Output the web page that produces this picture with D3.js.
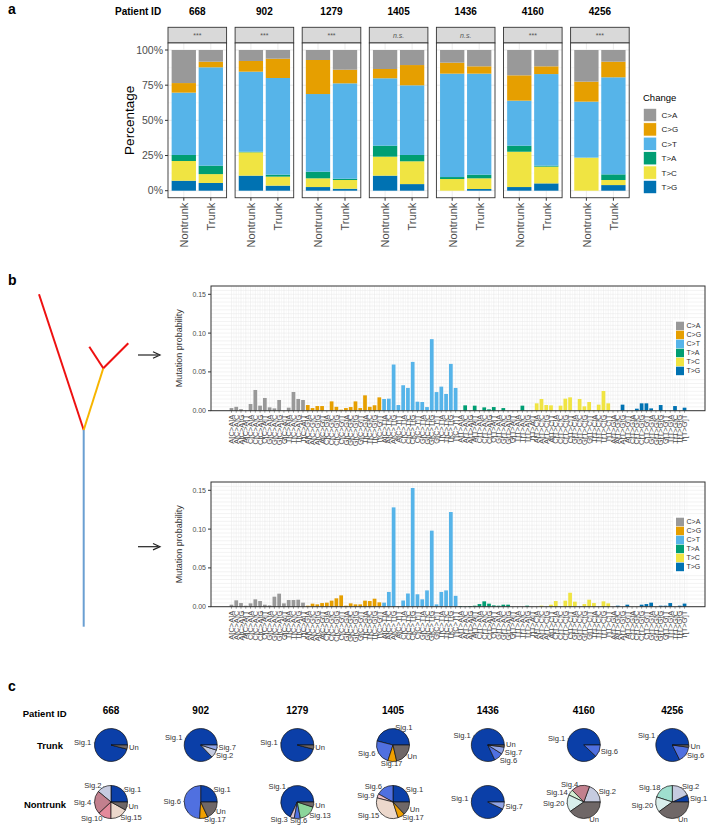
<!DOCTYPE html>
<html><head><meta charset="utf-8">
<script src="https://cdn.jsdelivr.net/npm/d3@7"></script>
<style>body{margin:0;background:#fff} svg{display:block;font-family:"Liberation Sans",Arial,sans-serif}</style>
</head><body><svg id="fig" width="708" height="827"></svg>
<script>
// ---------- DATA ----------
const changes = ["C>A","C>G","C>T","T>A","T>C","T>G"];
const changeColors = ["#999999","#E69F00","#56B4E9","#009E73","#F0E442","#0072B2"];
const patients = ["668","902","1279","1405","1436","4160","4256"];
const stripLabels = ["***","***","***","n.s.","n.s.","***","***"];
const branches = ["Nontrunk","Trunk"];
const pctTicks = [0,0.25,0.5,0.75,1];
// percentage of each change (C>A,C>G,C>T,T>A,T>C,T>G) per patient
const nontrunkPct = [
  [23.5,6.8,44.3,4.3,14.0,7.1],
  [7.8,7.6,56.9,0.4,16.6,10.7],
  [7.1,24.2,55.2,4.7,6.2,2.6],
  [13.5,6.6,47.9,7.8,13.5,10.7],
  [9.0,7.8,73.5,1.4,8.3,0],
  [18.0,18.0,32.0,4.3,25.1,2.6],
  [22.5,14.2,39.8,0,23.5,0]
];
const trunkPct = [
  [8.3,4.0,69.9,6.0,6.3,5.5],
  [6.2,13.7,68.7,1.4,6.4,3.6],
  [14.0,9.7,67.8,0.9,6.2,1.4],
  [10.7,14.4,49.5,4.5,16.2,4.7],
  [11.6,5.2,71.8,2.6,7.6,1.2],
  [11.6,5.5,65.1,0.7,11.9,5.2],
  [8.3,11.1,69.0,4.0,3.6,4.0]
];
// panel b: 96 trinucleotide contexts
const bases = ["A","C","G","T"];
const probTicks = [0,0.05,0.10,0.15];
const topCA = [0.0034,0.005,0.002,0,0.0086,0.0267,0.0065,0.0164,0.0043,0.003,0.0138,0,0.0039,0.0241,0.0151,0.0138];
const topCG = [0.0073,0.0034,0.006,0.006,0,0.012,0.005,0.0013,0.0034,0.0047,0.012,0.0034,0.0198,0.005,0.007,0.0172];
const topCT = [0.0151,0.0155,0.0595,0.0073,0.0328,0.0293,0.0629,0.0116,0.0112,0.0047,0.0922,0.024,0.031,0.0216,0.0603,0.0293];
const topTA = [0,0.0069,0,0.0065,0,0.0043,0.0017,0.0047,0,0.0034,0,0,0,0.0065,0,0];
const topTC = [0.0095,0.0151,0.0073,0.0069,0,0.0065,0.0155,0.0172,0,0.0151,0.0056,0.0112,0.0009,0.0078,0.0254,0.0095];
const topTG = [0,0,0.0078,0,0,0.0026,0.0095,0.0095,0.003,0,0.0073,0,0,0.006,0,0.0039];
const botCA = [0.0026,0.0082,0.0047,0.0013,0.0043,0.0095,0.0073,0.0026,0.0017,0.0129,0.0168,0.0043,0.0086,0.0086,0.009,0.0052];
const botCG = [0.0013,0.0039,0.003,0.0047,0.0052,0.0078,0.0108,0.0146,0.0013,0.0043,0.003,0.003,0.0078,0.0073,0.0103,0.0056];
const botCT = [0.0052,0.019,0.128,0.0004,0.008,0.017,0.153,0.016,0.0095,0.021,0.098,0.003,0.019,0.021,0.122,0.014];
const botTA = [0.0009,0.0004,0.0009,0.0013,0.0034,0.0069,0.0039,0.0017,0.0013,0.0026,0.0026,0,0,0,0.0013,0];
const botTC = [0,0.0013,0,0.0026,0.0073,0,0.0078,0.018,0.0065,0,0.0034,0.009,0.0047,0,0.0069,0.0043];
const botTG = [0,0.0013,0,0.0026,0,0,0.0026,0.0034,0.0052,0,0.0013,0.0013,0.0047,0,0.0013,0.004];
// panel c: signature pies (counter-clockwise from 3 o'clock)
const trunkSigs = [["Sig.1","Un"],["Sig.1","Sig.2","Sig.7"],["Sig.1","Un"],["Sig.1","Sig.6","Sig.17","Un"],["Sig.1","Sig.6","Sig.7","Un"],["Sig.1","Sig.6"],["Sig.1","Sig.6","Un"]];
const trunkVals = [[0.96,0.04],[0.87,0.08,0.05],[0.96,0.04],[0.46,0.24,0.086,0.214],[0.82,0.09,0.07,0.02],[0.88,0.12],[0.823,0.155,0.022]];
const nontrunkSigs = [["Sig.1","Sig.2","Sig.4","Sig.10","Sig.15","Un"],["Sig.1","Sig.6","Sig.17","Un"],["Sig.1","Sig.3","Sig.6","Sig.13","Un"],["Sig.1","Sig.6","Sig.9","Sig.15","Sig.17","Un"],["Sig.1","Sig.7"],["Sig.2","Sig.4","Sig.14","Sig.20","Un"],["Sig.1","Sig.2","Sig.18","Sig.20","Un"]];
const nontrunkVals = [[0.25,0.14,0.23,0.13,0.17,0.08],[0.25,0.49,0.08,0.18],[0.68,0.04,0.06,0.17,0.05],[0.25,0.17,0.04,0.34,0.07,0.13],[0.93,0.07],[0.194,0.18,0.056,0.167,0.403],[0.07,0.18,0.2,0.15,0.4]];
const sigNames = ["Sig.1","Sig.2","Sig.3","Sig.4","Sig.6","Sig.7","Sig.9","Sig.10","Sig.13","Sig.14","Sig.15","Sig.17","Sig.18","Sig.20","Un"];
const sigColors = ["#0b3fa8","#c6cbe0","#dcc3d6","#c2808e","#5070e0","#8fa3e6","#f3c3cb","#e48a9b","#8bd69b","#d3ecd3","#ecd8cc","#f0a000","#9fdfcf","#d8eeec","#6f6767"];

// ---------- DRAW ----------
const svg = d3.select("#fig");
svg.append("rect").attr("width",708).attr("height",827).attr("fill","#fff");
const cColor = d3.scaleOrdinal().domain(changes).range(changeColors);

// ===== Panel a =====
svg.append("text").attr("x",8).attr("y",14).attr("font-size",14).attr("font-weight","bold").text("a");
svg.append("text").attr("x",115).attr("y",14.5).attr("font-size",10).attr("font-weight","bold").text("Patient ID");
const aX0 = 168, aStep = 67.1, aW = 58.6;
const yA = d3.scaleLinear().domain([0,1]).range([190.7,50]);
const pTop = yA(1.05), pBot = yA(-0.05);
const xA = d3.scaleBand().domain(branches).range([0,aW]).paddingInner(0.1).paddingOuter(0.135);
const stack = d3.stack().keys(changes.slice().reverse());

patients.forEach((p,i)=>{
  const g = svg.append("g").attr("transform",`translate(${aX0+i*aStep},0)`);
  g.append("text").attr("x",aW/2).attr("y",14.5).attr("text-anchor","middle").attr("font-size",10).attr("font-weight","bold").text(p);
  g.append("rect").attr("x",0).attr("y",27.3).attr("width",aW).attr("height",pTop-27.3).attr("fill","#d9d9d9").attr("stroke","#333").attr("stroke-width",0.9);
  g.append("text").attr("x",aW/2).attr("y",(27.3+pTop)/2).attr("dy","0.35em").attr("text-anchor","middle").attr("font-size",7)
    .attr("fill","#555").attr("font-style",stripLabels[i]==="n.s."?"italic":"normal").text(stripLabels[i]);
  g.append("rect").attr("x",0).attr("y",pTop).attr("width",aW).attr("height",pBot-pTop).attr("fill","#fff");
  [0.125,0.375,0.625,0.875].forEach(v=>g.append("line").attr("x1",0).attr("x2",aW).attr("y1",yA(v)).attr("y2",yA(v)).attr("stroke","#f2f2f2").attr("stroke-width",0.5));
  pctTicks.forEach(v=>g.append("line").attr("x1",0).attr("x2",aW).attr("y1",yA(v)).attr("y2",yA(v)).attr("stroke","#ebebeb").attr("stroke-width",1));
  branches.forEach(b=>g.append("line").attr("x1",xA(b)+xA.bandwidth()/2).attr("x2",xA(b)+xA.bandwidth()/2).attr("y1",pTop).attr("y2",pBot).attr("stroke","#ebebeb").attr("stroke-width",1));
  const rows = branches.map((b,j)=>{const arr = j===0?nontrunkPct[i]:trunkPct[i]; const o={branch:b}; changes.forEach((c,k)=>o[c]=arr[k]/100); return o;});
  const series = stack(rows);
  series.forEach(s=>{
    g.selectAll(null).data(s).enter().append("rect")
      .attr("x",d=>xA(d.data.branch)).attr("width",xA.bandwidth())
      .attr("y",d=>yA(d[1])).attr("height",d=>Math.max(0,yA(d[0])-yA(d[1])))
      .attr("fill",cColor(s.key));
  });
  g.append("rect").attr("x",0).attr("y",pTop).attr("width",aW).attr("height",pBot-pTop).attr("fill","none").attr("stroke","#333").attr("stroke-width",0.9);
  branches.forEach(b=>{
    const cx = xA(b)+xA.bandwidth()/2;
    g.append("line").attr("x1",cx).attr("x2",cx).attr("y1",pBot).attr("y2",pBot+3).attr("stroke","#333");
    g.append("text").attr("transform",`translate(${cx+0.5},${pBot+5}) rotate(-90)`).attr("text-anchor","end").attr("dy","0.35em")
      .attr("font-size",11).attr("fill","#4d4d4d").text(b);
  });
  if(i===0){
    pctTicks.forEach(v=>{
      g.append("line").attr("x1",-3).attr("x2",0).attr("y1",yA(v)).attr("y2",yA(v)).attr("stroke","#333");
      g.append("text").attr("x",-5).attr("y",yA(v)).attr("dy","0.35em").attr("text-anchor","end").attr("font-size",10.5).attr("fill","#4d4d4d").text(d3.format(".0%")(v));
    });
  }
});
svg.append("text").attr("transform",`translate(134,${(pTop+pBot)/2}) rotate(-90)`).attr("text-anchor","middle").attr("font-size",13.5).text("Percentage");
// legend a
svg.append("text").attr("x",643).attr("y",101).attr("font-size",9.5).text("Change");
changes.forEach((c,k)=>{
  const y0 = 108.3 + k*14.4;
  svg.append("rect").attr("x",643.3).attr("y",y0).attr("width",13.4).attr("height",13.4).attr("fill",cColor(c)).attr("stroke","#fff").attr("stroke-width",0.8);
  svg.append("text").attr("x",661.5).attr("y",y0+6.9).attr("dy","0.35em").attr("font-size",8).attr("fill","#222").text(c);
});

// ===== Panel b =====
svg.append("text").attr("x",8).attr("y",285).attr("font-size",14).attr("font-weight","bold").text("b");
const tree = [
  {x1:83.7,y1:626.7,x2:83.7,y2:430,c:"#6a9fd2"},
  {x1:83.7,y1:430,x2:39,y2:294.3,c:"#ee1111"},
  {x1:83.7,y1:430,x2:103.3,y2:368.3,c:"#f7b500"},
  {x1:103.3,y1:368.3,x2:89.3,y2:346.7,c:"#ee1111"},
  {x1:103.3,y1:368.3,x2:128.3,y2:343.3,c:"#ee1111"}
];
tree.forEach(t=>svg.append("line").attr("x1",t.x1).attr("y1",t.y1).attr("x2",t.x2).attr("y2",t.y2).attr("stroke",t.c).attr("stroke-width",2));
[355,546.7].forEach(ay=>{
  svg.append("line").attr("x1",138).attr("x2",158).attr("y1",ay).attr("y2",ay).attr("stroke","#222").attr("stroke-width",1.2);
  svg.append("path").attr("d",`M153,${ay-3.2} L160,${ay} L153,${ay+3.2}`).attr("fill","none").attr("stroke","#222").attr("stroke-width",1.2);
});
const contexts = [];
changes.forEach(s=>bases.forEach(b5=>bases.forEach(b3=>contexts.push({label:`${b5}[${s}]${b3}`,sub:s}))));
const topVals = [].concat(topCA,topCG,topCT,topTA,topTC,topTG);
const botVals = [].concat(botCA,botCG,botCT,botTA,botTC,botTG);
const xB = d3.scaleBand().domain(contexts.map(d=>d.label)).range([211,705]).paddingInner(0.22).paddingOuter(3.9);

function profile(vals, y0, yTop){
  const yB = d3.scaleLinear().domain([0,0.1607]).range([y0,yTop]);
  const g = svg.append("g");
  g.append("rect").attr("x",211).attr("y",yTop).attr("width",494).attr("height",y0-yTop).attr("fill","#fff");
  for(let v=0; v<=0.16; v+=0.005){
    g.append("line").attr("x1",211).attr("x2",705).attr("y1",yB(v)).attr("y2",yB(v)).attr("stroke","#e6e6e6").attr("stroke-width",0.5);
  }
  const st = xB.step();
  contexts.forEach(d=>{
    const cx = xB(d.label)+xB.bandwidth()/2;
    g.append("line").attr("x1",cx).attr("x2",cx).attr("y1",yTop).attr("y2",y0).attr("stroke","#e6e6e6").attr("stroke-width",0.5);
    g.append("line").attr("x1",cx+st/2).attr("x2",cx+st/2).attr("y1",yTop).attr("y2",y0).attr("stroke","#f0f0f0").attr("stroke-width",0.5);
  });
  g.selectAll(null).data(contexts).enter().append("rect")
    .attr("x",d=>xB(d.label)).attr("width",xB.bandwidth())
    .attr("y",(d,i)=>yB(vals[i])).attr("height",(d,i)=>y0-yB(vals[i]))
    .attr("fill",d=>cColor(d.sub));
  g.append("rect").attr("x",211).attr("y",yTop).attr("width",494).attr("height",y0-yTop).attr("fill","none").attr("stroke","#333").attr("stroke-width",1);
  probTicks.forEach(v=>{
    g.append("line").attr("x1",208).attr("x2",211).attr("y1",yB(v)).attr("y2",yB(v)).attr("stroke","#333");
    g.append("text").attr("x",206).attr("y",yB(v)).attr("dy","0.35em").attr("text-anchor","end").attr("font-size",7).attr("fill","#4d4d4d").text(d3.format(".2f")(v));
  });
  contexts.forEach(d=>{
    const cx = xB(d.label)+xB.bandwidth()/2;
    g.append("line").attr("x1",cx).attr("x2",cx).attr("y1",y0).attr("y2",y0+2).attr("stroke","#333").attr("stroke-width",0.5);
    g.append("text").attr("transform",`translate(${cx},${y0+4}) rotate(-90)`).attr("text-anchor","end").attr("dy","0.35em")
      .attr("font-size",7.5).attr("fill","#4d4d4d").text(d.label);
  });
  g.append("text").attr("transform",`translate(182,${(y0+yTop)/2}) rotate(-90)`).attr("text-anchor","middle").attr("font-size",9).attr("fill","#333").text("Mutation probability");
  const ly = yTop + 35.7;
  g.append("rect").attr("x",673).attr("y",ly-2).attr("width",31).attr("height",58).attr("fill","#fff");
  changes.forEach((c,k)=>{
    g.append("rect").attr("x",676).attr("y",ly+k*9).attr("width",8).attr("height",8.5).attr("fill",cColor(c));
    g.append("text").attr("x",686.5).attr("y",ly+k*9+4.3).attr("dy","0.35em").attr("font-size",7).attr("fill","#333").text(c);
  });
}
profile(topVals, 410.7, 286);
profile(botVals, 606.7, 482);

// ===== Panel c =====
svg.append("text").attr("x",8).attr("y",691).attr("font-size",14).attr("font-weight","bold").text("c");
svg.append("text").attr("x",22.7).attr("y",716.5).attr("font-size",9.5).attr("font-weight","bold").text("Patient ID");
svg.append("text").attr("x",50).attr("y",749).attr("text-anchor","middle").attr("font-size",9.5).attr("font-weight","bold").text("Trunk");
svg.append("text").attr("x",45).attr("y",807.5).attr("text-anchor","middle").attr("font-size",9.5).attr("font-weight","bold").text("Nontrunk");
const pieX = [111,200.7,297.3,393,487.8,583.8,672.3];
const sigColor = d3.scaleOrdinal().domain(sigNames).range(sigColors);
const R = 16.5, FS = 7.6;
const arc = d3.arc().innerRadius(0).outerRadius(R);
function drawPie(cx, cy, names, vals){
  const g = svg.append("g").attr("transform",`translate(${cx},${cy})`);
  const tot = d3.sum(vals);
  let a = 0;
  const labs = [];
  names.forEach((n,k)=>{
    const a0 = a, a1 = a + vals[k]/tot*2*Math.PI; a = a1;
    g.append("path").attr("d",arc({startAngle:Math.PI/2-a1,endAngle:Math.PI/2-a0}))
      .attr("fill",sigColor(n)).attr("stroke","#111").attr("stroke-width",0.7);
    const m = (a0+a1)/2, cs = Math.cos(m), sn = Math.sin(m);
    g.append("line").attr("x1",R*cs).attr("y1",-R*sn).attr("x2",1.05*R*cs).attr("y2",-1.05*R*sn).attr("stroke","#333").attr("stroke-width",0.6);
    const anchor = Math.abs(cs)<0.1 ? "middle" : (cs<0 ? "end" : "start");
    const w = n.length*FS*0.5;
    let x = 1.1*R*cs;
    let x0 = anchor==="start"?x:(anchor==="end"?x-w:x-w/2);
    labs.push({n, anchor, x0, w, y:-1.1*R*sn});
  });
  // simple collision resolution
  for(let it=0; it<6; it++){
    for(let i=0;i<labs.length;i++) for(let j=i+1;j<labs.length;j++){
      const A=labs[i], B=labs[j];
      const hov = Math.min(A.x0+A.w,B.x0+B.w)-Math.max(A.x0,B.x0);
      const dv = Math.abs(A.y-B.y);
      if(hov>0 && dv<8){
        if(A.anchor===B.anchor && A.anchor!=="middle"){
          const d=(8-dv)/2; if(A.y<B.y){A.y-=d;B.y+=d;}else{A.y+=d;B.y-=d;}
        } else {
          const d=(hov+0.5)/2; if(A.x0<B.x0){A.x0-=d;B.x0+=d;}else{A.x0+=d;B.x0-=d;}
        }
      }
    }
  }
  labs.forEach(L=>{
    g.append("text").attr("x",L.x0).attr("y",L.y).attr("dy","0.35em").attr("text-anchor","start")
      .attr("font-size",FS).attr("fill","#333").text(L.n);
  });
}
patients.forEach((p,i)=>{
  svg.append("text").attr("x",pieX[i]).attr("y",713.5).attr("text-anchor","middle").attr("font-size",10).attr("font-weight","bold").text(p);
  drawPie(pieX[i],745,trunkSigs[i],trunkVals[i]);
  drawPie(pieX[i],802,nontrunkSigs[i],nontrunkVals[i]);
});
</script></body></html>
